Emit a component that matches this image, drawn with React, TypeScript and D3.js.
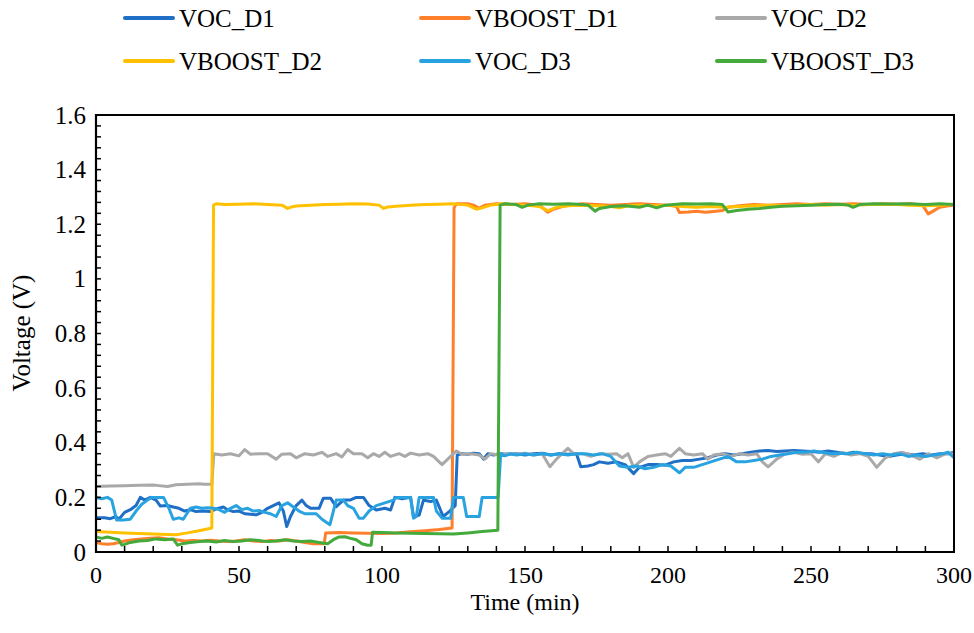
import React from "react";
import * as d3 from "d3";

type P = [number, number];

const seriesNames = ["VOC_D1", "VBOOST_D1", "VOC_D2", "VBOOST_D2", "VOC_D3", "VBOOST_D3"];
const seriesColors = ["#1F6FC6", "#FF7F2A", "#A9A9A9", "#FFC000", "#29A3E0", "#44AA3C"];

const xTickLabels = [0, 50, 100, 150, 200, 250, 300];
const yTickLabels = [0, 0.2, 0.4, 0.6, 0.8, 1, 1.2, 1.4, 1.6];

const vocD1: P[] = [
  [0, 0.125], [3, 0.125], [5, 0.122], [7, 0.13], [8, 0.12], [10, 0.145], [12, 0.155], [14, 0.17], [15.5, 0.2], [17, 0.19], [19, 0.2], [21, 0.19],
  [22.5, 0.168], [25, 0.17], [27, 0.165], [29, 0.16], [31, 0.15], [33, 0.155], [35, 0.148], [37, 0.15], [40, 0.148], [42, 0.158], [44.5, 0.165],
  [46, 0.155], [48, 0.148], [50, 0.15], [52, 0.14], [54, 0.138], [56, 0.136], [58, 0.145], [60, 0.16], [62, 0.17], [64, 0.18], [65.5, 0.15],
  [66.7, 0.093], [68, 0.13], [70, 0.17], [72, 0.19], [73.5, 0.17], [75, 0.16], [78, 0.16], [79.5, 0.197], [82, 0.197], [84, 0.166], [86.5, 0.19],
  [88.8, 0.19], [91, 0.2], [93.5, 0.2], [95.5, 0.17], [98, 0.154], [101, 0.16], [103, 0.154], [104.5, 0.2], [107, 0.195], [110, 0.2], [111, 0.13],
  [113, 0.135], [114.5, 0.19], [117, 0.185], [119, 0.19], [121.4, 0.13], [123.7, 0.15], [125.6, 0.17], [126.3, 0.355], [128, 0.36], [130, 0.358],
  [132, 0.362], [134, 0.36], [135.5, 0.34], [137, 0.36], [139, 0.355], [141, 0.36], [144, 0.358], [147, 0.36], [150, 0.355], [153, 0.36],
  [156, 0.362], [159, 0.355], [162, 0.36], [165, 0.358], [168, 0.36], [169.5, 0.312], [172, 0.315], [174, 0.32], [176, 0.33], [179, 0.325],
  [182, 0.33], [185, 0.32], [188, 0.287], [190, 0.31], [193, 0.32], [196, 0.32], [199, 0.318], [202, 0.33], [205, 0.335], [208, 0.335],
  [211, 0.34], [214, 0.345], [217, 0.355], [220, 0.36], [223, 0.355], [226, 0.36], [229, 0.365], [232, 0.37], [235, 0.372], [238, 0.368],
  [241, 0.37], [244, 0.372], [247, 0.37], [250, 0.368], [253, 0.365], [256, 0.37], [259, 0.365], [262, 0.36], [265, 0.365], [268, 0.36],
  [271, 0.36], [274, 0.355], [277, 0.35], [280, 0.355], [283, 0.36], [286, 0.355], [289, 0.36], [292, 0.355], [295, 0.36], [298, 0.36], [300, 0.365],
];

const vboostD1: P[] = [
  [0, 0.035], [2, 0.03], [4, 0.028], [6, 0.03], [8, 0.035], [10, 0.04], [13, 0.045], [16, 0.048], [19, 0.05], [22, 0.052], [25, 0.048],
  [28, 0.045], [31, 0.04], [34, 0.042], [37, 0.04], [40, 0.043], [43, 0.04], [46, 0.038], [49, 0.04], [52, 0.045], [55, 0.04], [58, 0.038],
  [61, 0.042], [64, 0.04], [67, 0.045], [70, 0.04], [73, 0.035], [76, 0.03], [78, 0.03], [79.8, 0.03], [80.3, 0.07], [85, 0.071], [90, 0.07],
  [95, 0.069], [100, 0.068], [105, 0.07], [110, 0.074], [115, 0.078], [120, 0.082], [124.5, 0.088], [125.2, 1.26], [126, 1.275], [130, 1.275],
  [132, 1.27], [134, 1.258], [136, 1.27], [140, 1.275], [145, 1.272], [150, 1.275], [155, 1.27], [158, 1.244], [160, 1.255], [163, 1.265],
  [166, 1.27], [170, 1.275], [175, 1.272], [180, 1.27], [185, 1.272], [190, 1.275], [195, 1.272], [200, 1.27], [203, 1.265], [204, 1.243],
  [207, 1.245], [210, 1.248], [213, 1.244], [216, 1.247], [219, 1.25], [221, 1.262], [225, 1.268], [230, 1.272], [235, 1.27], [240, 1.272],
  [245, 1.275], [250, 1.272], [255, 1.275], [260, 1.273], [265, 1.275], [270, 1.272], [275, 1.275], [280, 1.273], [285, 1.275], [289, 1.27],
  [291, 1.238], [293, 1.25], [295, 1.262], [298, 1.268], [300, 1.27],
];

const vocD2: P[] = [
  [0, 0.24], [5, 0.242], [10, 0.243], [15, 0.244], [20, 0.245], [22, 0.243], [25, 0.24], [28, 0.246], [32, 0.248], [36, 0.25], [38, 0.248],
  [40.5, 0.248], [41.2, 0.36], [44, 0.355], [47, 0.36], [50, 0.352], [52, 0.375], [54, 0.358], [57, 0.36], [60, 0.36], [63, 0.34], [65, 0.358],
  [68, 0.36], [70, 0.345], [73, 0.36], [76, 0.355], [79, 0.365], [81, 0.35], [84, 0.36], [86, 0.348], [88, 0.375], [90, 0.36], [93, 0.36],
  [95, 0.345], [97, 0.36], [99, 0.35], [101, 0.365], [103, 0.35], [106, 0.36], [108, 0.35], [110, 0.362], [113, 0.355], [116, 0.36],
  [118, 0.35], [121, 0.32], [123, 0.34], [126, 0.37], [128, 0.358], [131, 0.36], [134, 0.355], [136, 0.34], [138, 0.36], [141, 0.355],
  [144, 0.36], [147, 0.358], [150, 0.362], [153, 0.355], [156, 0.36], [158.7, 0.312], [161, 0.34], [163, 0.36], [165, 0.38], [167, 0.36],
  [170, 0.36], [173, 0.35], [176, 0.36], [179, 0.358], [182, 0.36], [184, 0.345], [186, 0.36], [188, 0.31], [190, 0.33], [193, 0.35],
  [196, 0.355], [199, 0.36], [201, 0.35], [204, 0.38], [206, 0.36], [209, 0.355], [212, 0.36], [214, 0.34], [216, 0.355], [219, 0.36],
  [222, 0.35], [225, 0.36], [228, 0.355], [231, 0.36], [233, 0.33], [235, 0.312], [238, 0.34], [241, 0.36], [244, 0.365], [247, 0.358],
  [250, 0.36], [252.6, 0.33], [255, 0.36], [258, 0.35], [261, 0.365], [264, 0.355], [267, 0.36], [270, 0.35], [273, 0.31], [276, 0.345],
  [279, 0.36], [282, 0.365], [285, 0.355], [288, 0.34], [291, 0.36], [294, 0.345], [297, 0.36], [300, 0.36],
];

const vboostD2: P[] = [
  [0, 0.075], [5, 0.072], [10, 0.07], [15, 0.068], [20, 0.066], [25, 0.064], [28, 0.063], [32, 0.07], [36, 0.078], [40.5, 0.088],
  [41.1, 1.27], [42, 1.275], [45, 1.272], [50, 1.273], [55, 1.275], [60, 1.272], [65, 1.27], [67, 1.258], [68, 1.262], [70, 1.267],
  [75, 1.27], [80, 1.272], [85, 1.273], [90, 1.275], [95, 1.274], [99, 1.27], [100.5, 1.258], [102, 1.263], [105, 1.266], [110, 1.27],
  [115, 1.272], [120, 1.273], [125, 1.275], [130, 1.27], [133, 1.255], [135, 1.26], [138, 1.27], [142, 1.275], [146, 1.272], [150, 1.27],
  [155, 1.265], [158, 1.25], [161, 1.262], [165, 1.268], [170, 1.27], [175, 1.268], [180, 1.265], [183, 1.26], [186, 1.268], [190, 1.27],
  [195, 1.268], [200, 1.27], [205, 1.265], [210, 1.262], [215, 1.265], [220, 1.262], [225, 1.265], [230, 1.268], [235, 1.27], [240, 1.268],
  [245, 1.27], [250, 1.272], [255, 1.27], [260, 1.272], [265, 1.27], [270, 1.272], [275, 1.273], [280, 1.272], [285, 1.27], [290, 1.268],
  [295, 1.27], [300, 1.272],
];

const vocD3: P[] = [
  [0, 0.2], [2, 0.195], [4, 0.2], [5.5, 0.19], [7.2, 0.117], [9.5, 0.117], [12, 0.12], [14, 0.15], [16, 0.175], [18, 0.19], [19.5, 0.2],
  [21.5, 0.2], [23.6, 0.2], [25.5, 0.16], [27, 0.12], [29, 0.125], [30.5, 0.12], [33, 0.16], [35, 0.165], [37, 0.16], [39, 0.162],
  [41, 0.16], [43, 0.155], [45, 0.145], [47, 0.16], [49, 0.17], [51, 0.155], [53, 0.16], [55, 0.15], [57, 0.152], [59, 0.145], [61, 0.14],
  [63, 0.13], [65, 0.17], [67, 0.18], [69, 0.165], [71, 0.15], [73, 0.14], [75, 0.14], [77, 0.14], [79, 0.12], [81.8, 0.1], [83, 0.15],
  [84, 0.19], [86.5, 0.19], [88, 0.17], [90, 0.16], [92, 0.124], [93.5, 0.124], [95.5, 0.15], [98, 0.17], [101, 0.18], [104, 0.19],
  [105, 0.2], [108, 0.2], [110, 0.2], [111, 0.124], [112, 0.13], [113, 0.2], [116, 0.2], [118, 0.2], [119, 0.15], [121, 0.124],
  [124, 0.124], [125, 0.2], [128.4, 0.2], [129.6, 0.13], [132, 0.13], [134, 0.13], [135, 0.2], [138, 0.2], [140.6, 0.2], [141.5, 0.36],
  [143, 0.352], [145, 0.36], [147, 0.355], [150, 0.36], [153, 0.355], [156, 0.36], [159, 0.355], [162, 0.36], [165, 0.355], [168, 0.36],
  [171, 0.36], [174, 0.355], [177, 0.36], [180, 0.35], [183, 0.315], [186, 0.31], [189, 0.315], [192, 0.305], [195, 0.31], [198, 0.32],
  [201, 0.315], [204, 0.29], [206, 0.31], [209, 0.31], [212, 0.32], [215, 0.33], [218, 0.34], [221, 0.35], [224, 0.33], [227, 0.33],
  [230, 0.335], [233, 0.34], [236, 0.35], [239, 0.355], [242, 0.36], [245, 0.365], [248, 0.365], [251, 0.37], [254, 0.365], [257, 0.36],
  [260, 0.362], [263, 0.36], [266, 0.365], [269, 0.36], [272, 0.355], [275, 0.36], [278, 0.355], [281, 0.36], [284, 0.35], [287, 0.355],
  [290, 0.35], [293, 0.355], [296, 0.36], [298, 0.365], [300, 0.345],
];

const vboostD3: P[] = [
  [0, 0.055], [2, 0.05], [4, 0.055], [6, 0.05], [8, 0.045], [9, 0.025], [10, 0.028], [12, 0.035], [15, 0.04], [18, 0.042], [21, 0.048],
  [24, 0.045], [27, 0.048], [28.5, 0.025], [30, 0.03], [33, 0.035], [36, 0.038], [39, 0.04], [42, 0.037], [45, 0.042], [48, 0.038],
  [51, 0.04], [54, 0.045], [57, 0.042], [60, 0.038], [63, 0.04], [66, 0.045], [69, 0.04], [72, 0.038], [75, 0.04], [78, 0.035], [81, 0.03],
  [83, 0.045], [85, 0.055], [87, 0.056], [89, 0.05], [91, 0.045], [93, 0.03], [95, 0.025], [96.2, 0.025], [96.7, 0.072], [100, 0.071],
  [105, 0.07], [110, 0.069], [115, 0.068], [120, 0.067], [125, 0.066], [130, 0.07], [135, 0.075], [140.5, 0.08], [141.3, 1.27],
  [143, 1.275], [147, 1.272], [149, 1.262], [151, 1.27], [155, 1.275], [160, 1.273], [165, 1.275], [170, 1.272], [172, 1.27],
  [174.5, 1.248], [176, 1.258], [180, 1.265], [185, 1.268], [190, 1.262], [193, 1.27], [196, 1.26], [199, 1.27], [205, 1.275],
  [210, 1.274], [215, 1.275], [219, 1.272], [221, 1.245], [224, 1.25], [228, 1.255], [232, 1.258], [236, 1.262], [240, 1.266],
  [245, 1.268], [250, 1.27], [255, 1.272], [260, 1.273], [263, 1.27], [264.7, 1.262], [267, 1.272], [272, 1.275], [278, 1.274],
  [284, 1.275], [290, 1.272], [295, 1.275], [300, 1.272],
];

const seriesData: P[][] = [vocD1, vboostD1, vocD2, vboostD2, vocD3, vboostD3];

const W = 974;
const H = 633;
const FONT = "'Liberation Serif'";

export default function App() {
  const x = d3.scaleLinear().domain([0, 300]).range([96, 954]);
  const y = d3.scaleLinear().domain([0, 1.6]).range([552, 115]);
  const line = d3
    .line<P>()
    .x((d) => x(d[0]))
    .y((d) => y(d[1]));

  const xMinor = d3.range(0, 301, 10);
  const yMinor = d3.range(0, 40.5, 1).map((i) => i * 0.04);

  const legendCols = [125, 421, 717];
  const legendRows = [18, 61];
  const ts: React.CSSProperties = { fontFamily: FONT, fontSize: 25 };
  const ts24: React.CSSProperties = { fontFamily: FONT, fontSize: 24 };

  return (
    <svg width={W} height={H} style={{ position: "absolute", left: 0, top: 0, background: "#fff" }}>
      <rect x={0} y={0} width={W} height={H} fill="#fff" />
      {seriesNames.map((name, i) => {
        const cx = legendCols[i % 3];
        const cy = legendRows[Math.floor(i / 3)];
        return (
          <g key={name}>
            <line x1={cx} x2={cx + 48} y1={cy} y2={cy} stroke={seriesColors[i]} strokeWidth={4} strokeLinecap="round" />
            <text x={cx + 54} y={cy + 8.5} style={ts} fill="#000">
              {name}
            </text>
          </g>
        );
      })}
      <defs>
        <clipPath id="clip">
          <rect x={96} y={110} width={858} height={442} />
        </clipPath>
      </defs>
      <g clipPath="url(#clip)">
        {seriesData.map((d, i) => (
          <path
            key={i}
            d={line(d) || ""}
            fill="none"
            stroke={seriesColors[i]}
            strokeWidth={3}
            strokeLinejoin="round"
            strokeLinecap="round"
          />
        ))}
      </g>
      <rect x={96} y={115} width={858} height={437} fill="none" stroke="#000" strokeWidth={2} />
      <line x1={96} x2={96} y1={114} y2={553} stroke="#000" strokeWidth={2.2} />
      <line x1={95} x2={955} y1={552} y2={552} stroke="#000" strokeWidth={2.2} />
      {xMinor.map((t) => (
        <line key={"xt" + t} x1={x(t)} x2={x(t)} y1={552} y2={546} stroke="#000" strokeWidth={1.5} />
      ))}
      {yMinor.map((v, i) => (
        <line key={"yt" + i} x1={96} x2={101} y1={y(v)} y2={y(v)} stroke="#000" strokeWidth={1.5} />
      ))}
      {xTickLabels.map((t) => (
        <text key={"xl" + t} x={x(t)} y={583} textAnchor="middle" style={ts24} fill="#000">
          {t}
        </text>
      ))}
      {yTickLabels.map((v) => (
        <text key={"yl" + v} x={86} y={y(v) + 8.5} textAnchor="end" style={ts} fill="#000">
          {v}
        </text>
      ))}
      <text x={525} y={610} textAnchor="middle" style={ts24} fill="#000">
        Time (min)
      </text>
      <text transform={`translate(30, 333) rotate(-90)`} textAnchor="middle" style={ts} fill="#000">
        Voltage (V)
      </text>
    </svg>
  );
}
